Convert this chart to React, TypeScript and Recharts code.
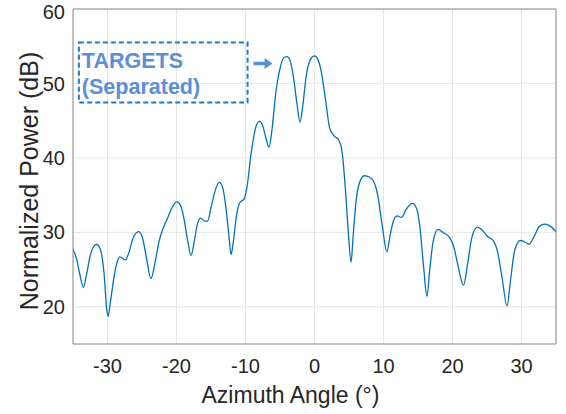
import React from 'react';
import { LineChart, Line, XAxis, YAxis, CartesianGrid, ReferenceArea, ReferenceLine } from 'recharts';

// azimuth angles (deg) and normalized power (dB)
const angles = [
  -35, -34.5, -34, -33.5, -33, -32.5, -32, -31.6, -31, -30.5, -30.1, -29.9, -29.6, -29, -28.6, -28.2,
  -27.4, -27, -26.3, -25.5, -25, -24.4, -23.7, -23.1, -22.5, -22, -21.3, -20.6, -20, -19.5, -19, -18.4,
  -17.9, -17.4, -17, -16.5, -15.9, -15.5, -15, -14.4, -13.8, -13.3, -12.8, -12.4, -12.1, -11.8, -11.3,
  -10.8, -10.2, -9.8, -9.2, -8.6, -8, -7.5, -7, -6.6, -6.2, -5.6, -5, -4.5, -4, -3.5, -3, -2.5, -2.1,
  -1.7, -1.2, -0.6, 0, 0.5, 1, 1.6, 2.2, 2.8, 3.5, 4, 4.5, 4.9, 5.3, 5.6, 6, 6.5, 7.2, 8, 8.6, 9.2, 9.8,
  10.5, 11, 11.5, 12, 12.6, 13.3, 14.2, 14.8, 15.3, 15.8, 16.3, 16.7, 17.2, 17.9, 18.6, 19.6, 20.2, 20.8,
  21.6, 22.2, 22.8, 23.6, 24.3, 25, 25.9, 26.5, 27.2, 27.9, 28.4, 29, 29.8, 30.5, 31.1, 31.8, 32.6, 33.4,
  34.2, 35,
];
const power = [
  27.7, 26.5, 24.3, 22.6, 24.5, 26.9, 28.1, 28.4, 27.6, 24.5, 19.5, 18.7, 20.5, 24.3, 26.0, 26.7,
  26.3, 27.0, 29.2, 30.1, 29.5, 26.8, 23.8, 26.0, 28.9, 30.4, 31.9, 33.4, 34.1, 33.8, 32.2, 29.0,
  26.9, 28.9, 31.0, 31.9, 31.5, 31.5, 33.3, 35.6, 36.7, 36.0, 33.0, 29.5, 27.0, 28.5, 32.3,
  34.0, 34.5, 36.0, 40.5, 43.8, 44.9, 44.3, 42.5, 41.4, 43.5, 48.8, 52.0, 53.4, 53.6, 53.0, 50.5, 47.0, 44.8,
  47.0, 51.0, 53.2, 53.7, 53.2, 51.5, 47.8, 44.0, 43.0, 42.4, 40.8, 35.5, 30.0, 26.0, 29.5, 34.0, 36.6, 37.6, 37.4, 36.8, 34.8, 31.0,
  27.4, 29.8, 31.7, 32.2, 32.0, 33.1, 33.9, 33.2, 30.5, 25.5, 21.4, 25.0, 28.8, 30.4, 30.0, 29.3, 28.0, 25.5,
  22.9, 25.8, 29.3, 30.7, 30.3, 29.5, 28.9, 27.5, 23.8, 20.1, 23.5, 27.5, 28.9, 28.7, 28.4, 29.4, 30.8, 31.1,
  30.8, 30.1,
];
const xTicks = [-30, -20, -10, 0, 10, 20, 30];
const yTicks = [20, 30, 40, 50, 60];
const annotation = ['TARGETS', '(Separated)'];

const data = angles.map((a, i) => ({ angle: a, power: power[i] }));

const font = '"Liberation Sans", Arial, Helvetica, sans-serif';
const textColor = '#262626';
const axisColor = '#8c8c8c';

const AnnotationLabel = ({ viewBox }: any) => {
  const { x, y, width } = viewBox;
  const ax = x + width + 6;
  const ay = y + 21;
  return (
    <g>
      <text x={x + 3} y={y + 25} fill="#5a8fd8" fontFamily={font} fontWeight="bold" fontSize={21.5}>{annotation[0]}</text>
      <text x={x + 3} y={y + 51} fill="#5a8fd8" fontFamily={font} fontWeight="bold" fontSize={21.5}>{annotation[1]}</text>
      <path d={`M${ax},${ay - 1.8} L${ax + 11},${ay - 1.8} L${ax + 11},${ay - 5.5} L${ax + 19},${ay} L${ax + 11},${ay + 5.5} L${ax + 11},${ay + 1.8} L${ax},${ay + 1.8} Z`} fill="#5a8fd8" />
    </g>
  );
};

const XLabel = ({ viewBox }: any) => (
  <text x={viewBox.x + viewBox.width / 2 - 24} y={viewBox.y + 59} textAnchor="middle" fill={textColor} fontFamily={font} fontSize={23}>
    Azimuth Angle (°)
  </text>
);

const YLabel = () => (
  <text x={29} y={181} transform="rotate(-90, 29, 181)" textAnchor="middle" dominantBaseline="central" fill={textColor} fontFamily={font} fontSize={25}>
    Normalized Power (dB)
  </text>
);

export default function App() {
  return (
    <div style={{ position: 'absolute', left: 0, top: 0, width: 566, height: 414, background: '#fff' }}>
      <LineChart width={566} height={414} data={data} margin={{ top: 9, right: 10, left: 0, bottom: 0 }}>
        <CartesianGrid stroke="#e6e6e6" />
        <XAxis
          dataKey="angle"
          type="number"
          domain={[-35, 35]}
          ticks={xTicks}
          allowDataOverflow
          height={70}
          stroke={axisColor}
          tickLine={false}
          tickSize={0}
          tickMargin={15}
          tick={{ fill: textColor, fontFamily: font, fontSize: 20 }}
          label={<XLabel />}
        />
        <YAxis
          type="number"
          domain={[15, 60]}
          ticks={yTicks}
          allowDataOverflow
          width={73}
          stroke={axisColor}
          tickLine={false}
          tickSize={0}
          tickMargin={8}
          tick={{ fill: textColor, fontFamily: font, fontSize: 20 }}
          label={<YLabel />}
        />
        <ReferenceLine x={35} stroke={axisColor} />
        <ReferenceLine y={60} stroke={axisColor} />
        <ReferenceArea
          x1={-34.15}
          x2={-9.7}
          y1={47.45}
          y2={55.5}
          fill="none"
          stroke="#1f78c8"
          strokeWidth={2}
          strokeDasharray="5 3"
          label={<AnnotationLabel />}
        />
        <Line
          type="monotone"
          dataKey="power"
          stroke="#0072bd"
          strokeWidth={1.3}
          dot={false}
          isAnimationActive={false}
        />
      </LineChart>
    </div>
  );
}
